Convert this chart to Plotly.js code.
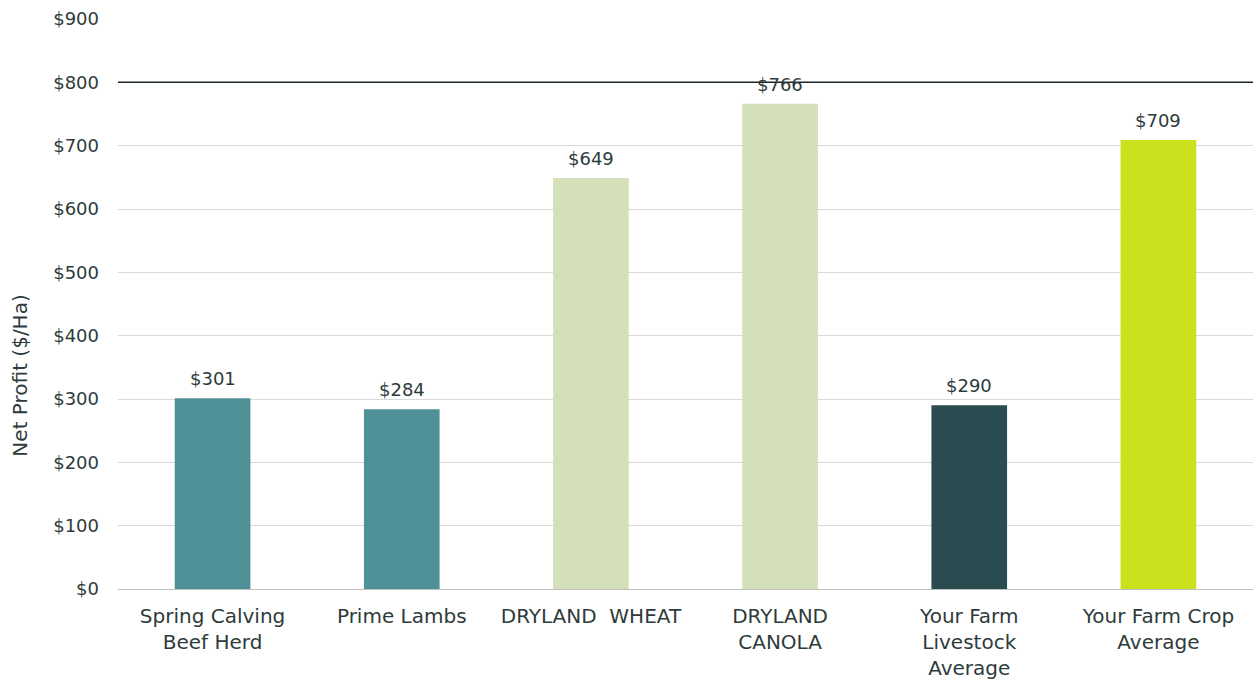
<!DOCTYPE html>
<html><head><meta charset="utf-8">
<script src="https://cdn.plot.ly/plotly-3.0.1.min.js"></script>
<style>html,body{margin:0;padding:0;background:#fff}#chart{width:1253px;height:681px}</style>
</head><body><div id="chart"></div>
<script>
const categories = ["Spring Calving<br>Beef Herd", "Prime Lambs", "DRYLAND&nbsp;&nbsp;WHEAT", "DRYLAND<br>CANOLA", "Your Farm<br>Livestock<br>Average", "Your Farm Crop<br>Average"];
const values = [301, 284, 649, 766, 290, 709];
const barColors = ["#4f9196", "#4f9196", "#d3e0b8", "#d3e0b8", "#2a4b50", "#cbe11e"];
const tickVals = [0, 100, 200, 300, 400, 500, 600, 700, 800, 900];
const tickText = ["$0", "$100", "$200", "$300", "$400", "$500", "$600", "$700", "$800", "$900"];
const yTitle = "Net Profit ($/Ha)";
const referenceLine = 800;

const font = "'DejaVu Sans', sans-serif";
const txt = "#2e3b3b";

const annotations = categories.map((c, i) => ({
  x: c, y: values[i], xref: "x", yref: "y",
  text: "$" + values[i], showarrow: false, yanchor: "bottom", yshift: 7,
  font: {family: font, size: 18, color: txt}
}));
annotations.push({
  text: yTitle, xref: "paper", yref: "paper", x: -0.086, y: 0.375,
  xanchor: "center", yanchor: "middle", textangle: -90, showarrow: false,
  font: {family: font, size: 20, color: txt}
});

Plotly.newPlot("chart", [{
  type: "bar",
  x: categories,
  y: values,
  marker: {color: barColors},
  hoverinfo: "none"
}], {
  width: 1253, height: 681,
  margin: {l: 118, r: 0, t: 19, b: 92},
  paper_bgcolor: "#fff", plot_bgcolor: "#fff",
  bargap: 0.6,
  showlegend: false,
  font: {family: font, size: 18, color: txt},
  xaxis: {
    showgrid: false, showline: true, linecolor: "#bfbfbf", linewidth: 1,
    ticks: "", ticklabelstandoff: 9,
    tickfont: {family: font, size: 20, color: txt},
    fixedrange: true
  },
  yaxis: {
    range: [0, 900], tickvals: tickVals, ticktext: tickText,
    showgrid: true, gridcolor: "#d9d9d9", gridwidth: 1,
    zeroline: false, showline: false, ticks: "",
    ticklabelstandoff: 18,
    tickfont: {family: font, size: 18, color: txt},
    fixedrange: true
  },
  annotations: annotations,
  shapes: [{
    type: "line", xref: "paper", x0: 0, x1: 1, yref: "y", y0: referenceLine, y1: referenceLine,
    line: {color: "#1a2626", width: 1.5}
  }]
}, {displayModeBar: false, staticPlot: true});
</script></body></html>
